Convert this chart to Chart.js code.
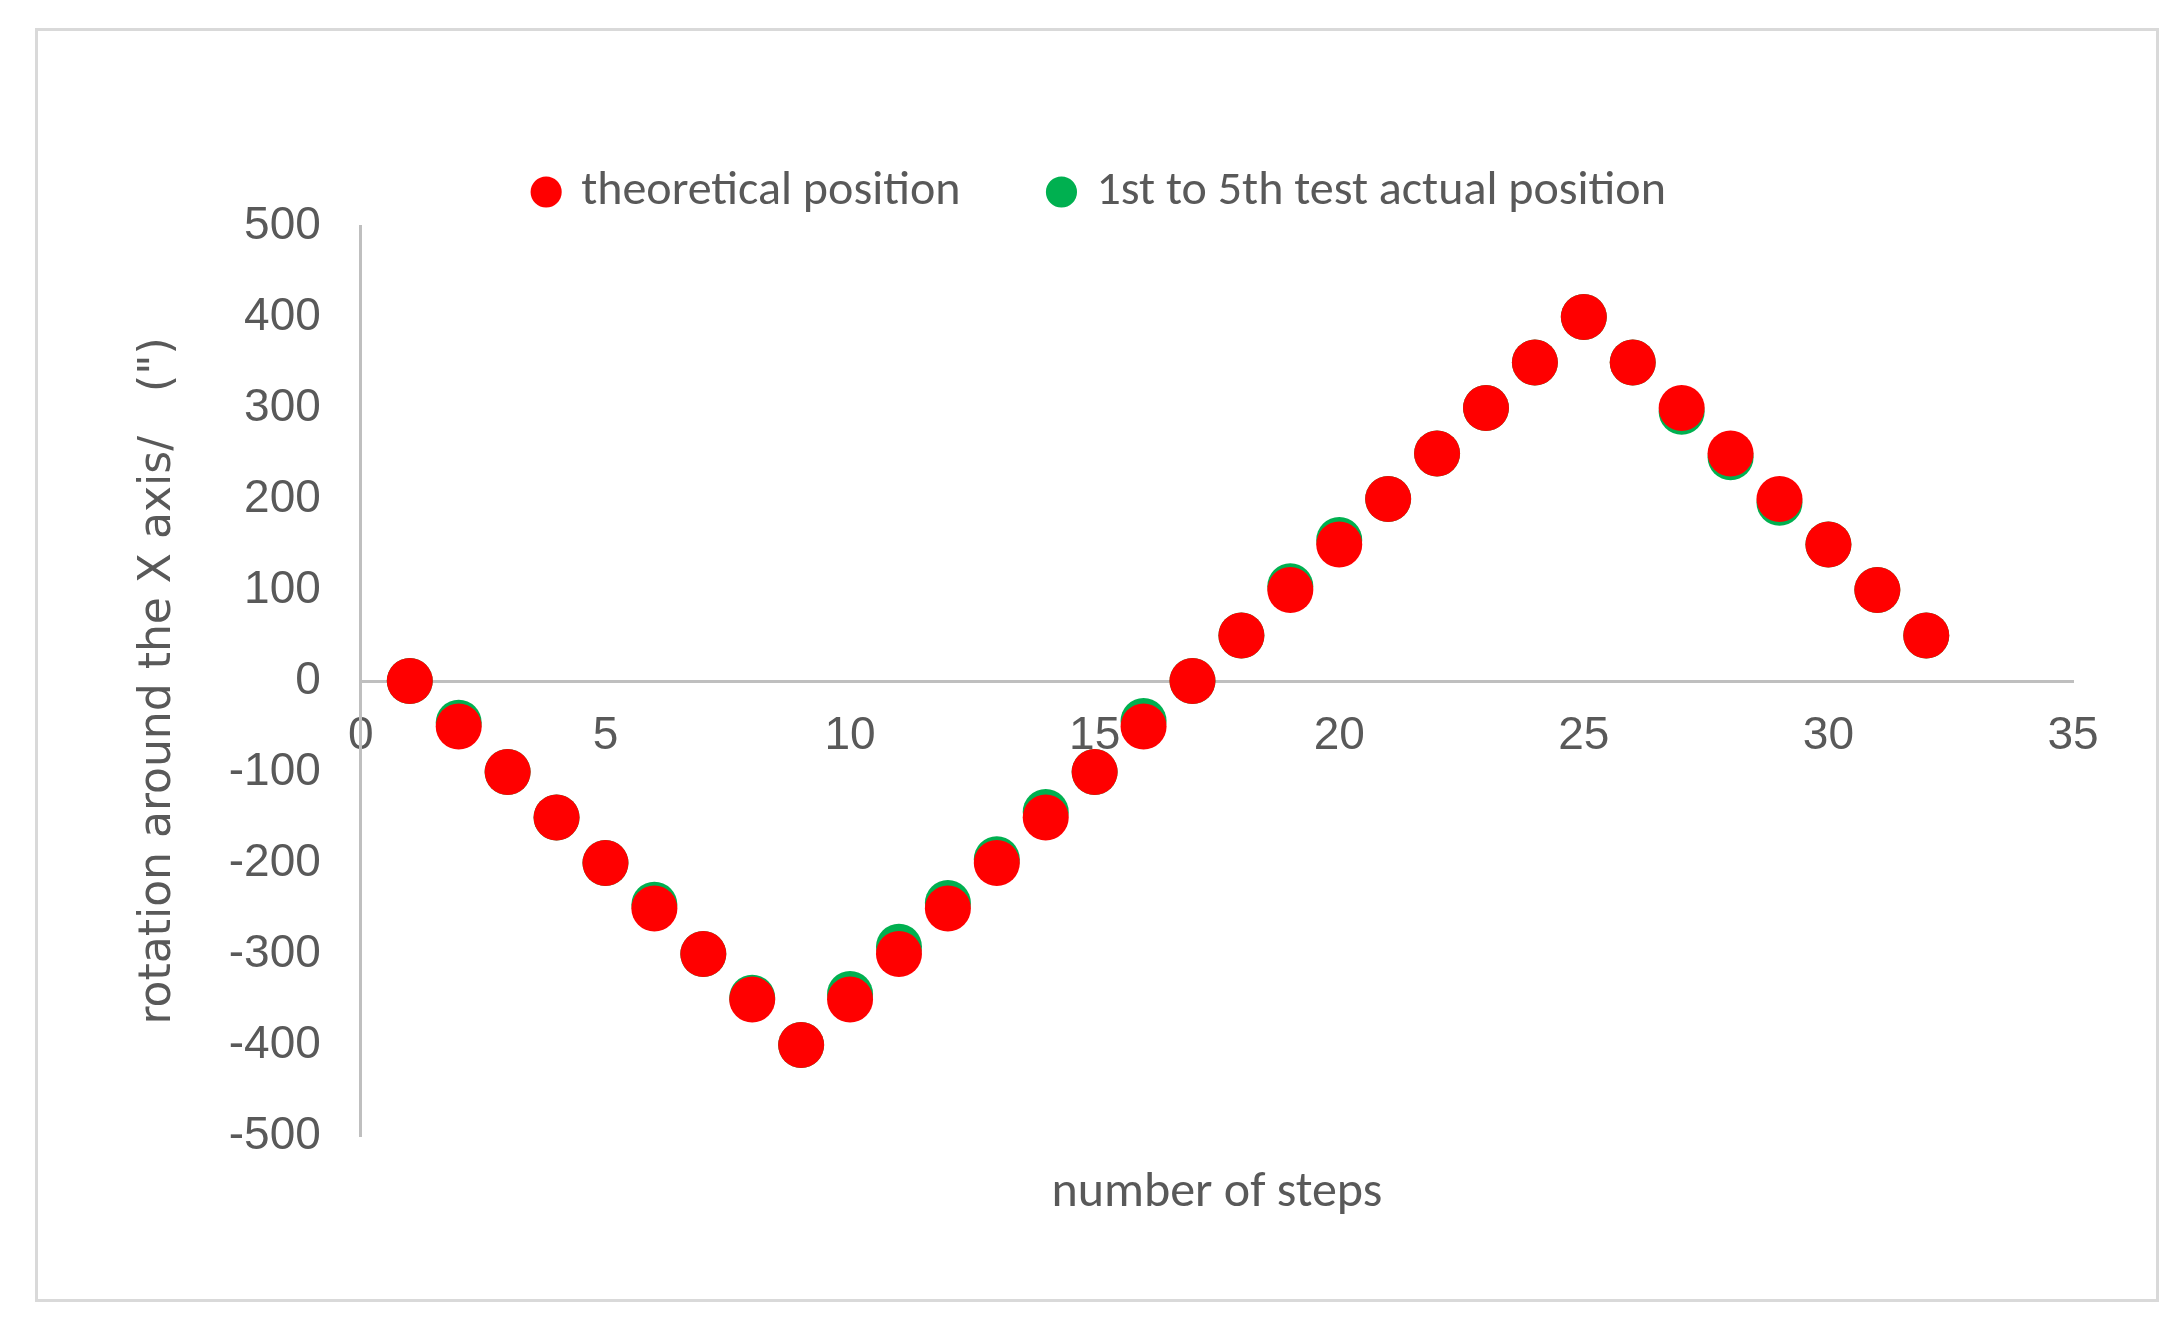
<!DOCTYPE html>
<html>
<head>
<meta charset="utf-8">
<script src="https://cdn.jsdelivr.net/npm/chart.js@4/dist/chart.umd.min.js"></script>
<style>
  html, body { margin: 0; padding: 0; background: #fff; }
  #frame { position: absolute; left: 35px; top: 28px; width: 2118px; height: 1268px; border: 3px solid #d9d9d9; }
  #wrap { position: absolute; left: 0; top: 0; width: 2176px; height: 1329px; }
</style>
</head>
<body>
<div id="frame"></div>
<div id="wrap"><canvas id="chart"></canvas></div>
<script>
const steps = [1,2,3,4,5,6,7,8,9,10,11,12,13,14,15,16,17,18,19,20,21,22,23,24,25,26,27,28,29,30,31,32];
const theoretical = [0,-50,-100,-150,-200,-250,-300,-350,-400,-350,-300,-250,-200,-150,-100,-50,0,50,100,150,200,250,300,350,400,350,300,250,200,150,100,50];
const actual = [0,-46,-100,-150,-200,-246,-300,-348,-400,-344,-292,-244,-196,-144,-100,-44,0,50,104,155,200,250,300,350,400,350,296,246,196,150,100,50];

const pts = arr => steps.map((s, i) => ({ x: s, y: arr[i] }));
const grey = '#595959';

const xTitle = {
  id: 'xTitle',
  afterDraw(chart) {
    const { ctx, chartArea } = chart;
    ctx.save();
    ctx.font = '50px Calibri, "Liberation Sans Narrow", sans-serif';
    ctx.fillStyle = grey;
    ctx.textAlign = 'center';
    ctx.textBaseline = 'middle';
    ctx.fillText('number of steps', (chartArea.left + chartArea.right) / 2, 1193);
    ctx.restore();
  }
};

new Chart(document.getElementById('chart'), {
  type: 'scatter',
  data: {
    datasets: [
      { label: '1st to 5th test actual position', data: pts(actual), backgroundColor: '#00b050', borderWidth: 0, pointRadius: 23, pointHoverRadius: 23, order: 2 },
      { label: 'theoretical position', data: pts(theoretical), backgroundColor: '#ff0000', borderWidth: 0, pointRadius: 23, pointHoverRadius: 23, order: 1 }
    ]
  },
  options: {
    responsive: true,
    maintainAspectRatio: false,
    animation: false,
    layout: { padding: { left: 128, right: 103, top: 78, bottom: 193 } },
    plugins: {
      legend: {
        labels: {
          usePointStyle: true, pointStyle: 'circle', boxWidth: 22, boxHeight: 22,
          color: grey, padding: 90,
          font: { size: 48, family: 'Calibri, "Liberation Sans Narrow", sans-serif' }
        }
      },
      tooltip: { enabled: false }
    },
    scales: {
      x: {
        type: 'linear', min: 0, max: 35,
        position: { y: 0 },
        grid: { display: false, drawTicks: false },
        border: { color: '#bfbfbf', width: 3 },
        ticks: { stepSize: 5, color: grey, padding: 28, font: { size: 46, family: '"Liberation Sans Narrow", "Liberation Sans", sans-serif' } }
      },
      y: {
        min: -500, max: 500,
        grid: { display: false, drawTicks: false },
        border: { color: '#bfbfbf', width: 3 },
        ticks: { stepSize: 100, color: grey, padding: 40, font: { size: 46, family: '"Liberation Sans Narrow", "Liberation Sans", sans-serif' } },
        title: { display: true, text: 'rotation around the X axis/　(")', color: grey, font: { size: 44, family: '"DejaVu Sans", sans-serif' } }
      }
    }
  },
  plugins: [xTitle]
});
</script>
</body>
</html>
